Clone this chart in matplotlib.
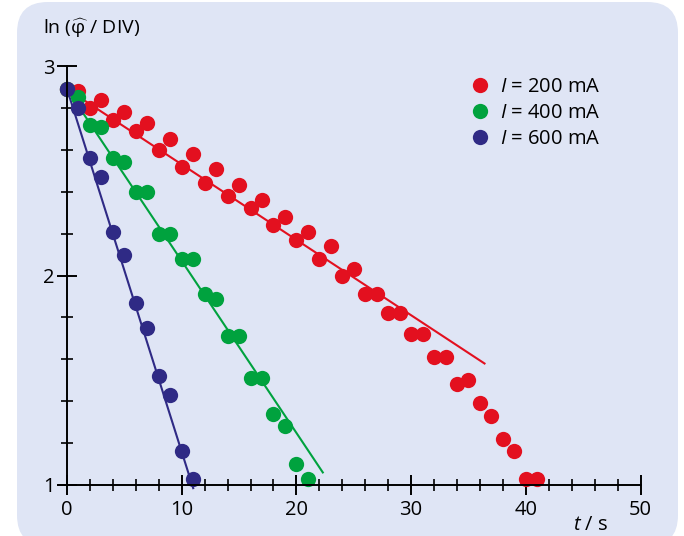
import matplotlib
matplotlib.use('Agg')
import matplotlib.pyplot as plt
from matplotlib.patches import FancyBboxPatch
from matplotlib.ticker import MultipleLocator

plt.rcParams['font.family'] = ['Open Sans', 'DejaVu Sans']
plt.rcParams['mathtext.fontset'] = 'custom'
plt.rcParams['mathtext.rm'] = 'Open Sans'
plt.rcParams['mathtext.it'] = 'Open Sans:italic'

# measured points, t in s, ln(phi/DIV)
t200 = list(range(0, 42))
y200 = [2.89, 2.88, 2.80, 2.84, 2.74, 2.78, 2.69, 2.73, 2.60, 2.65,
        2.52, 2.58, 2.44, 2.51, 2.38, 2.43, 2.32, 2.36, 2.24, 2.28,
        2.17, 2.21, 2.08, 2.14, 2.00, 2.03, 1.91, 1.91, 1.82, 1.82,
        1.72, 1.72, 1.61, 1.61, 1.48, 1.50, 1.39, 1.33, 1.22, 1.16,
        1.03, 1.03]
t400 = list(range(0, 22))
y400 = [2.89, 2.85, 2.72, 2.71, 2.56, 2.54, 2.40, 2.40, 2.20, 2.20,
        2.08, 2.08, 1.91, 1.89, 1.71, 1.71, 1.51, 1.51, 1.34, 1.28,
        1.10, 1.03]
t600 = list(range(0, 12))
y600 = [2.89, 2.80, 2.56, 2.47, 2.21, 2.10, 1.87, 1.75, 1.52, 1.43,
        1.16, 1.03]

# fitted lines (start, end)
fit200_t = [0, 36.4]
fit200_y = [2.89, 1.58]
fit400_t = [0, 22.3]
fit400_y = [2.89, 1.06]
fit600_t = [0, 11.0]
fit600_y = [2.89, 0.985]

red = '#e3101f'
green = '#00a23e'
blue = '#2f2a85'

fig = plt.figure(figsize=(6.84, 5.36), dpi=100)
W, H = 684.0, 536.0
panel = FancyBboxPatch((17 / W, -10 / H), 661 / W, 544 / H,
                       boxstyle='round,pad=0,rounding_size=0.045',
                       transform=fig.transFigure, facecolor='#dfe5f5',
                       edgecolor='none', zorder=-5, mutation_aspect=W / H)
fig.patches.append(panel)

ax = fig.add_axes([59 / W, 51 / H, 581.5 / W, 419 / H])
ax.set_zorder(2)
ax.set_facecolor('none')
ax.set_xlim(-0.7, 50)
ax.set_ylim(1, 3)

ax.plot(fit200_t, fit200_y, color=red, lw=1.5, clip_on=False)
ax.plot(fit400_t, fit400_y, color=green, lw=1.5, clip_on=False)
ax.plot(fit600_t, fit600_y, color=blue, lw=1.5, clip_on=False)
ax.plot(t200, y200, 'o', color=red, ms=11, mec='none', clip_on=False,
        label='$I$ = 200 mA')
ax.plot(t400, y400, 'o', color=green, ms=11, mec='none', clip_on=False,
        label='$I$ = 400 mA')
ax.plot(t600, y600, 'o', color=blue, ms=11, mec='none', clip_on=False,
        label='$I$ = 600 mA')

for s in ['top', 'right']:
    ax.spines[s].set_visible(False)
ax.spines['left'].set_position(('data', 0))
ax.spines['left'].set_linewidth(1.4)
ax.spines['bottom'].set_linewidth(1.4)

ax.xaxis.set_major_locator(MultipleLocator(10))
ax.xaxis.set_minor_locator(MultipleLocator(2))
ax.yaxis.set_major_locator(MultipleLocator(1))
ax.yaxis.set_minor_locator(MultipleLocator(0.2))
ax.tick_params(which='major', direction='inout', length=14, width=1.4,
               labelsize=14.5, pad=4)
ax.tick_params(which='minor', direction='inout', length=8, width=1.2)
ax.tick_params(axis='y', which='major', pad=2)

fig.text(43 / W, 1 - 28 / H, 'ln ($\\widehat{\\mathrm{\\varphi}}$ / DIV)',
         fontsize=14, ha='left', va='center')
fig.text(591 / W, 1 - 525 / H, '$t$ / s', fontsize=14.5, ha='center',
         va='center')

ax.legend(loc='upper left', bbox_to_anchor=(470 / W, 1 - 77 / H),
          bbox_transform=fig.transFigure, frameon=False, fontsize=14.5,
          handlelength=1.0, handletextpad=0.5, labelspacing=0.3,
          borderpad=0, borderaxespad=0, markerscale=1.0)

fig.savefig('out.png', dpi=100)
